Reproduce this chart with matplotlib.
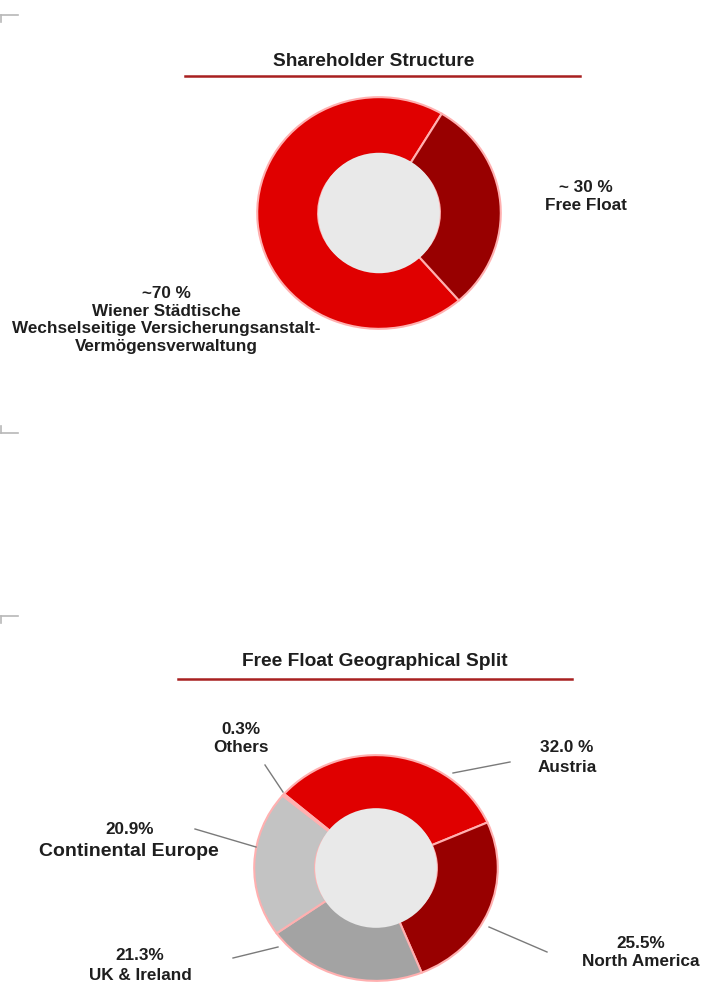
import matplotlib
matplotlib.use("Agg")
import matplotlib.pyplot as plt
from matplotlib.patches import Ellipse
import numpy as np

plt.rcParams['font.family'] = ['Liberation Sans', 'DejaVu Sans']

# ---------------- data ----------------
holder_labels = [["~70 %", "Wiener Städtische", "Wechselseitige Versicherungsanstalt-", "Vermögensverwaltung"],
                 ["~ 30 %", "Free Float"]]
holder_values = [70, 30]
holder_colors = ["#e00000", "#980000"]

geo_names = ["Austria", "North America", "UK & Ireland", "Continental Europe", "Others"]
geo_values = [32.0, 25.5, 21.3, 20.9, 0.3]
geo_pct_text = ["32.0 %", "25.5%", "21.3%", "20.9%", "0.3%"]
geo_colors = ["#e00000", "#980000", "#a3a3a3", "#c3c3c3", "#d8d8d8"]

W, H = 703, 985
fig = plt.figure(figsize=(W / 100, H / 100), dpi=100)
fig.patch.set_facecolor("white")

def donut_axes(cx, cy, rx, ry):
    return fig.add_axes([(cx - rx) / W, 1 - (cy + ry) / H, 2 * rx / W, 2 * ry / H])

TXT = "#1e1e1e"
HOLE = "#e9e9e9"
EDGE = "#ffb0b0"
LBL = 12.3
TITLE = 13.8

# overlay axes in pixel coords
ov = fig.add_axes([0, 0, 1, 1], zorder=5)
ov.set_xlim(0, W)
ov.set_ylim(H, 0)
ov.axis("off")
ov.patch.set_alpha(0)

def lines(x, y_first, texts, step, fs=LBL):
    for i, t in enumerate(texts):
        ov.text(x, y_first + i * step, t, ha="center", va="center", fontsize=fs,
                fontweight="bold", color=TXT)

# corner marks
mark_c = "#b8b8b8"
ov.plot([1, 18], [15, 15], color=mark_c, lw=1.2)
ov.plot([1, 1], [15, 22], color=mark_c, lw=1.2)
ov.plot([1, 18], [433, 433], color=mark_c, lw=1.2)
ov.plot([1, 1], [426, 433], color=mark_c, lw=1.2)
ov.plot([1, 18], [616, 616], color=mark_c, lw=1.2)
ov.plot([1, 1], [616, 623], color=mark_c, lw=1.2)

# ---------------- top chart ----------------
ov.text(374, 61, "Shareholder Structure", ha="center", va="center",
        fontsize=TITLE, fontweight="bold", color=TXT)
ov.plot([185, 580], [76, 76], color="#a82020", lw=1.8)

ax1 = donut_axes(379, 213, 123, 117)
ax1.pie(holder_values, colors=holder_colors, startangle=59, counterclock=True,
        radius=1, wedgeprops=dict(width=0.5, edgecolor=EDGE, linewidth=1.5))
ax1.set_aspect("auto")
ax1.set_xlim(-1.01, 1.01)
ax1.set_ylim(-1.01, 1.01)
ax1.add_patch(Ellipse((0, 0), 1.0, 1.04, facecolor=HOLE, edgecolor="none", zorder=3))
ax1.axis("off")

lines(586, 188, holder_labels[1], 18)
lines(166, 293, holder_labels[0], 18)

# ---------------- bottom chart ----------------
ov.text(375, 661, "Free Float Geographical Split", ha="center", va="center",
        fontsize=TITLE, fontweight="bold", color=TXT)
ov.plot([178, 572], [679, 679], color="#a82020", lw=1.8)

ax2 = donut_axes(376, 868, 123, 114)
ax2.pie(geo_values, colors=geo_colors, startangle=139, counterclock=False,
        radius=1, wedgeprops=dict(width=0.5, edgecolor=EDGE, linewidth=1.5))
ax2.set_aspect("auto")
ax2.set_xlim(-1.01, 1.01)
ax2.set_ylim(-1.01, 1.01)
ax2.add_patch(Ellipse((0, 0), 1.0, 1.06, facecolor=HOLE, edgecolor="none", zorder=3))
ax2.axis("off")

# label layout: (text x, first line y, line step, leader start, leader end)
layout = {
    "Austria": (567, 748, 19, (453, 773), (510, 762)),
    "North America": (641, 943, 19, (489, 927), (547, 952)),
    "UK & Ireland": (140, 956, 19, (278, 947), (233, 958)),
    "Continental Europe": (129, 830, 22, (256, 847), (195, 829)),
    "Others": (241, 729, 18, (283, 792), (265, 765)),
}
for name, pct in zip(geo_names, geo_pct_text):
    tx, ty, step, p0, p1 = layout[name]
    ov.plot([p0[0], p1[0]], [p0[1], p1[1]], color="#7a7a7a", lw=1.0)
    if name == "Continental Europe":
        ov.text(tx + 1, ty, pct, ha="center", va="center", fontsize=LBL,
                fontweight="bold", color=TXT)
        ov.text(tx, ty + step, name, ha="center", va="center", fontsize=14,
                fontweight="bold", color=TXT)
    else:
        lines(tx, ty, [pct, name], step)

fig.savefig("out.png", dpi=100, facecolor="white")
